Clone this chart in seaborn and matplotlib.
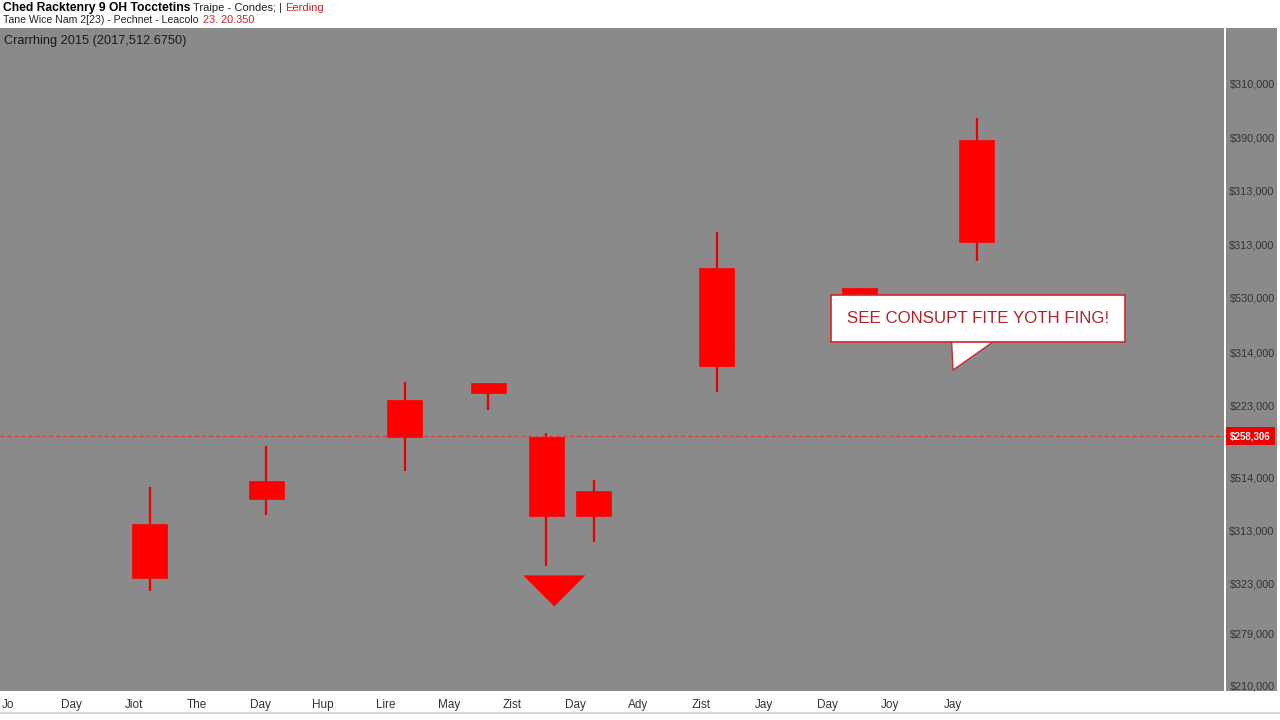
import numpy as np
import pandas as pd
import matplotlib
matplotlib.use("Agg")
import matplotlib.pyplot as plt
import seaborn as sns

# ─── donnees ───
x_labels = ["Jo", "Day", "Jiot", "The", "Day", "Hup", "Lire", "May",
            "Zist", "Day", "Ady", "Zist", "Jay", "Day", "Joy", "Jay"]

candle_x = [2.25, 4.10, 6.30, 7.62, 8.54, 9.30, 11.25, 13.52, 15.38]
highs = [238.1, 245.7, 257.7, 257.5, 248.3, 239.4, 285.8, 275.4, 307.1]
lows = [218.7, 232.8, 241.2, 252.6, 223.3, 227.8, 255.8, 273.1, 280.4]
opens = [231.3, 239.2, 254.3, 257.5, 247.4, 237.3, 279.1, 275.4, 303.0]
closes = [221.1, 235.8, 247.4, 255.6, 232.7, 232.7, 260.8, 273.5, 284.0]

y_ticks = [313.6, 303.4, 293.5, 283.4, 273.5, 263.2, 253.4,
           239.9, 230.0, 220.1, 210.8, 201.1]
y_labels = ["$310,000", "$390,000", "$313,000", "$313,000", "$530,000",
            "$314,000", "$223,000", "$514,000", "$313,000", "$323,000",
            "$279,000", "$210,000"]

last_price = 247.6
last_label = "$258,306"
signal_x = [8.67]
signal_y = [218.7]
callout_text = "SEE CONSUPT FITE YOTH FING!"
callout_tip = (14.98, 259.5)
callout_pos = (15.40, 269.6)

df = pd.DataFrame({"x": candle_x, "high": highs, "low": lows,
                   "open": opens, "close": closes})

# ─── style ───
sns.set_theme(style="dark", rc={"axes.facecolor": "#8a8a8a"})
plt.rcParams["font.family"] = ["Liberation Sans", "DejaVu Sans"]

RED = "#ff0000"
GREY_BG = "#8a8a8a"

fig = plt.figure(figsize=(12.8, 7.2), dpi=100, facecolor="white")
ax = fig.add_axes([0, 29 / 720, 1224 / 1280, 663 / 720])
ax2 = fig.add_axes([1226 / 1280, 29 / 720, 51 / 1280, 663 / 720], sharey=ax)

ax.set_xlim(-8 / 63, 1216 / 63)
ax.set_ylim(200, 323.9)

# meches
ax.vlines(df["x"], df["low"], df["high"], color="#ee0000", lw=1.6, zorder=2)
# corps
body_low = np.minimum(df["open"], df["close"])
body_h = np.abs(df["open"] - df["close"])
ax.bar(df["x"], body_h, bottom=body_low, width=0.556, color=RED,
       edgecolor=RED, lw=0.5, zorder=3)

# signal (triangle)
tri = [(-1, 0.5), (1, 0.5), (0, -0.5)]
sns.scatterplot(x=signal_x, y=signal_y, marker=tri, s=2000, color=RED,
                edgecolor="none", ax=ax, zorder=4, legend=False)

# ligne du dernier prix
ax.axhline(last_price, color="#ff2a2a", lw=1.0, ls=(0, (3, 2)), alpha=0.8, zorder=2)

# bulle
ax.annotate("", xy=callout_tip, xytext=callout_pos,
            arrowprops=dict(arrowstyle="wedge,tail_width=3.6,shrink_factor=0.5",
                            fc="white", ec="#cc2a2a", lw=1.0), zorder=5)
ax.text(callout_pos[0], callout_pos[1], callout_text, ha="center", va="center",
        fontsize=12.2, color="#b3202a", zorder=6,
        bbox=dict(boxstyle="square,pad=0.95", fc="white", ec="#cc2a2a", lw=1.2))

# axes
ax.set_xticks(range(len(x_labels)))
ax.set_xticklabels(x_labels, fontsize=8.5, color="#333333")
ax.tick_params(axis="x", length=0, pad=6)
ax.tick_params(axis="y", left=False, labelleft=False)
ax.grid(False)
for s in ax.spines.values():
    s.set_visible(False)

ax2.set_facecolor(GREY_BG)
ax2.set_xticks([])
ax2.set_yticks(y_ticks)
ax2.set_yticklabels(y_labels, fontsize=7.8, color="#333333")
ax2.tick_params(axis="y", length=0, pad=-35, labelleft=True)
for s in ax2.spines.values():
    s.set_visible(False)
ax2.text(0.48, last_price, last_label, transform=ax2.get_yaxis_transform(),
         ha="center", va="center", fontsize=7, color="white", fontweight="bold",
         bbox=dict(boxstyle="square,pad=0.4", fc="#ee0000", ec="none"))

# titres
fig.text(3 / 1280, 1 - 8 / 720, "Ched Racktenry 9 OH Tocctetins",
         fontsize=8.7, fontweight="bold", color="black", va="center")
fig.text(193 / 1280, 1 - 8 / 720, "Traipe - Condes; |", fontsize=8,
         color="#222222", va="center")
fig.text(285 / 1280, 1 - 8 / 720, "Eerding", fontsize=8, color="#cc2222",
         va="center")
fig.text(3 / 1280, 1 - 20 / 720, "Tane Wice Nam 2[23) - Pechnet - Leacolo",
         fontsize=7.6, color="#222222", va="center")
fig.text(203 / 1280, 1 - 20 / 720, "23. 20.350", fontsize=7.8, color="#cc2222",
         va="center")
ax.text(0.003, 0.98, "Crarrhing 2015 (2017,512.6750)", transform=ax.transAxes,
        fontsize=9.2, color="#1a1a1a", va="center")

fig.add_artist(plt.Line2D([0, 1], [7 / 720, 7 / 720], color="#d8d8d8", lw=1.5))

plt.savefig("out.png", dpi=100, facecolor="white")
plt.close()
